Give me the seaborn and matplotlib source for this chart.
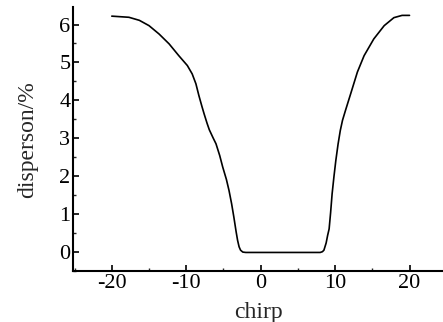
import numpy as np
import pandas as pd
import matplotlib
matplotlib.use("Agg")
import matplotlib.pyplot as plt
import seaborn as sns
from matplotlib.ticker import MultipleLocator

chirp = [-20.0, -17.7, -16.3, -15.0, -13.65, -12.3, -11.0, -9.85, -9.2, -8.7,
         -8.3, -7.9, -7.6, -7.2, -6.9, -6.4, -6.0, -5.5, -5.1, -4.6, -4.25,
         -3.9, -3.6, -3.3, -3.1, -2.9, -2.7, -2.4, -2.0, 0.0, 4.0, 8.0, 8.3,
         8.5, 8.8, 9.0, 9.2, 9.4, 9.6, 9.85, 10.1, 10.4, 10.7, 11.0, 11.4,
         12.1, 13.0, 13.9, 15.2, 16.6, 17.9, 19.0, 20.0]
dispersion = [6.22, 6.19, 6.11, 5.97, 5.75, 5.49, 5.18, 4.92, 4.70, 4.44,
              4.13, 3.85, 3.65, 3.40, 3.23, 3.02, 2.86, 2.55, 2.25, 1.92, 1.63,
              1.28, 0.93, 0.55, 0.32, 0.15, 0.06, 0.01, 0.0, 0.0, 0.0, 0.0, 0.02,
              0.06, 0.25, 0.45, 0.62, 1.05, 1.54, 2.00, 2.42, 2.85, 3.21, 3.48, 3.74,
              4.18, 4.75, 5.18, 5.62, 5.97, 6.18, 6.24, 6.24]

xticks = [-20, -10, 0, 10, 20]
yticks = [0, 1, 2, 3, 4, 5, 6]

df = pd.DataFrame({"chirp": chirp, "dispersion": dispersion})

sns.set_style("ticks")
plt.rcParams['font.family'] = ['Liberation Serif', 'DejaVu Serif']

fig = plt.figure(figsize=(4.43, 3.22), dpi=100)
ax = fig.add_axes([0.165, 0.157, 0.835, 0.82])

sns.lineplot(data=df, x="chirp", y="dispersion", ax=ax, color="black",
             linewidth=1.2, estimator=None, sort=False)
for ln in ax.lines:
    ln.set_solid_joinstyle('round')
    ln.set_solid_capstyle('round')

ax.set_xlim(-25.2, 24.5)
ax.set_ylim(-0.5, 6.45)
ax.set_xticks(xticks)
ax.set_xticklabels([str(t) for t in xticks])
ax.set_yticks(yticks)
ax.set_yticklabels([str(t) for t in yticks])
ax.xaxis.set_minor_locator(MultipleLocator(5))
ax.yaxis.set_minor_locator(MultipleLocator(0.5))
ax.tick_params(which='major', direction='in', length=4, width=1.2,
               labelsize=16, pad=2, colors='black')
ax.tick_params(which='minor', direction='in', length=2, width=1.0)

for s in ['top', 'right']:
    ax.spines[s].set_visible(False)
for s in ['left', 'bottom']:
    ax.spines[s].set_linewidth(1.5)
    ax.spines[s].set_color('black')

ax.set_xlabel("chirp", fontsize=17, labelpad=6)
ax.set_ylabel("disperson/%", fontsize=17, labelpad=15)

fig.savefig("out.png", dpi=100)
